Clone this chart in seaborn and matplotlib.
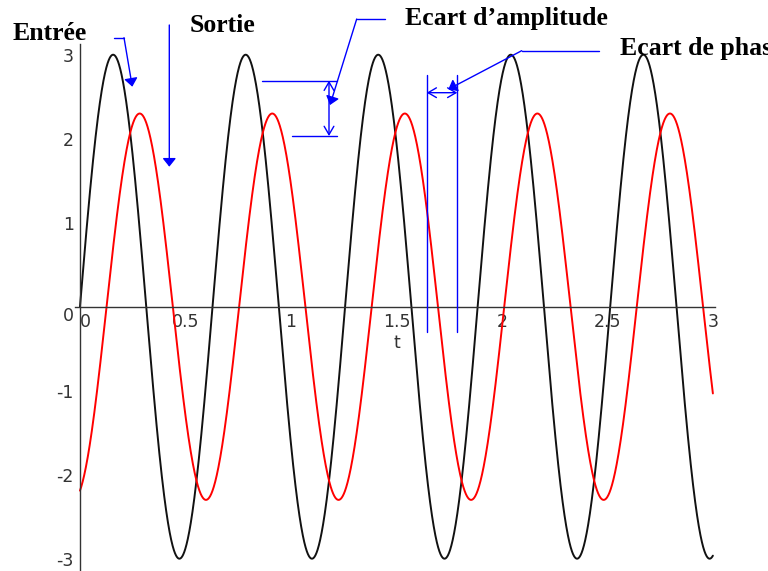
import numpy as np
import pandas as pd
import matplotlib
matplotlib.use('Agg')
import matplotlib.pyplot as plt
from matplotlib.lines import Line2D
from matplotlib.ticker import MultipleLocator
import seaborn as sns

# values
t_range = [0.0, 3.0]
entree_amplitude = 3.0
sortie_amplitude = 2.3
pulsation = 10.0      # rad/s  (period ~0.63)
dephasage = 1.26      # rad, output lags input
x_ticks = [0, 0.5, 1, 1.5, 2, 2.5, 3]
x_tick_labels = ["0", "0.5", "1", "1.5", "2", "2.5", "3"]
y_ticks = [-3, -2, -1, 0, 1, 2, 3]
y_tick_labels = ["-3", "-2", "-1", "0", "1", "2", "3"]

t = np.linspace(t_range[0], t_range[1], 3000)
df = pd.DataFrame({'t': t,
                   'entree': entree_amplitude * np.sin(pulsation * t),
                   'sortie': sortie_amplitude * np.sin(pulsation * t - dephasage)})

sns.set_style('white')
plt.rcParams['font.family'] = ['DejaVu Sans']

W, H = 768, 571
fig = plt.figure(figsize=(7.68, 5.71), dpi=100)
ax = fig.add_axes([74.7 / W, 1 - 569.6 / H, 640.3 / W, 525.8 / H])
ax.patch.set_alpha(0)

sns.lineplot(data=df, x='t', y='entree', color='#111111', lw=1.4, ax=ax)
sns.lineplot(data=df, x='t', y='sortie', color='#ff0000', lw=1.4, ax=ax)
ax.set_xlim(-0.025, 3.01)
ax.set_ylim(-3.13, 3.13)
ax.set_xlabel('')
ax.set_ylabel('')

axis_col = '#333333'
for s in ['top', 'right']:
    ax.spines[s].set_visible(False)
for s in ['left', 'bottom']:
    ax.spines[s].set_position(('data', 0))
    ax.spines[s].set_color(axis_col)
    ax.spines[s].set_linewidth(1)

ax.set_xticks(x_ticks, x_tick_labels)
ax.set_yticks(y_ticks, y_tick_labels)
ax.xaxis.set_minor_locator(MultipleLocator(0.1))
ax.yaxis.set_minor_locator(MultipleLocator(0.2))
ax.tick_params(which='major', direction='inout', length=5, width=1, color=axis_col,
               labelsize=12.5, labelcolor=axis_col, pad=2)
ax.tick_params(axis='x', which='minor', direction='in', length=2.5, width=1, color=axis_col)
ax.tick_params(axis='y', which='minor', direction='out', length=2.5, width=1, color=axis_col)
ax.get_xticklabels()[0].set_ha('left')
ax.get_yticklabels()[3].set_va('top')
ax.text(1.5, -0.43, 't', ha='center', va='center', fontsize=12.5, color=axis_col)


# annotations, positions in pixels from top-left
def fp(x, y):
    return (x / W, 1 - y / H)


blue = '#0000ff'
txt = dict(family=['Liberation Serif', 'DejaVu Serif'], weight='bold', fontsize=18.5,
           va='baseline', ha='left', color='black')
fig.text(*fp(12.7, 40), 'Entrée', **txt)
fig.text(*fp(190, 32), 'Sortie', **txt)
fig.text(*fp(405, 25), 'Ecart d\u2019amplitude', **txt)
fig.text(*fp(620, 55), 'Ecart de phase', **txt)


def seg(p1, p2):
    a, b = fp(*p1), fp(*p2)
    fig.add_artist(Line2D([a[0], b[0]], [a[1], b[1]], color=blue, lw=1,
                          transform=fig.transFigure))


def arrow(p1, p2, style='-|>,head_length=0.5,head_width=0.4'):
    ax.annotate('', xy=fp(*p2), xycoords='figure fraction',
                xytext=fp(*p1), textcoords='figure fraction',
                arrowprops=dict(arrowstyle=style, color=blue, lw=1,
                                shrinkA=0, shrinkB=0, mutation_scale=10),
                annotation_clip=False)


# Entrée
seg((114, 37.7), (124, 37.7))
arrow((124, 37.7), (132.3, 86.7))
# Sortie
arrow((169.3, 25), (169.3, 166.7))
# Ecart d'amplitude
seg((385, 19), (356.7, 19))
arrow((356.7, 19), (330, 105))
seg((261.7, 80.7), (336.7, 80.7))
seg((291.7, 136), (336.7, 136))
dim = '<->,head_length=0.6,head_width=0.35'
arrow((329, 80.7), (329, 136), dim)
# Ecart de phase
seg((599.3, 50.7), (521.7, 50.7))
arrow((521.7, 50.7), (448.3, 89.3))
seg((426.7, 75), (426.7, 332))
seg((457.3, 75), (457.3, 332))
arrow((426.7, 92.7), (457.3, 92.7), dim)

fig.savefig('out.png', dpi=100)
